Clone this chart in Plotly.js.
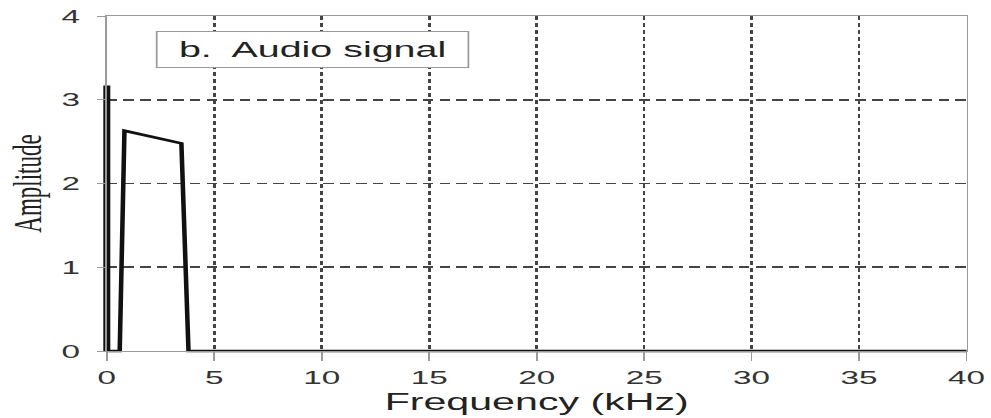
<!DOCTYPE html>
<html>
<head>
<meta charset="utf-8">
<script src="https://cdn.plot.ly/plotly-3.0.1.min.js"></script>
<style>
  html, body { margin: 0; padding: 0; background: #fff; overflow: hidden; }
  /* the spectrum panel is laid out narrow and widened to the page width */
  #chart { width: 566px; height: 418px; transform: scaleX(1.751); transform-origin: 0 0; }
  /* let the 0 kHz carrier line show its full width on the left edge */
  #chart .overplot, #chart .overplot g { clip-path: none !important; }
</style>
</head>
<body>
<div id="chart"></div>
<script>
// Carrier component at 0 kHz
const carrierFreq = [0, 0];
const carrierAmp = [0, 3.17];

// Audio band spectrum (kHz, amplitude)
const bandFreq = [0, 0.6, 0.82, 3.47, 3.8, 40];
const bandAmp = [0, 0, 2.63, 2.48, 0, 0];

const xTicks = [0, 5, 10, 15, 20, 25, 30, 35, 40];
const yTicks = [0, 1, 2, 3, 4];

const panelLabel = 'b.  Audio signal';

const tickFont = { family: 'Liberation Sans, Arial, sans-serif', size: 19, color: '#333' };

const traces = [
  {
    x: bandFreq, y: bandAmp, type: 'scatter', mode: 'lines',
    line: { color: '#111', width: 2.6 }, hoverinfo: 'skip', cliponaxis: false
  },
  {
    x: carrierFreq, y: carrierAmp, type: 'scatter', mode: 'lines',
    line: { color: '#111', width: 4 }, hoverinfo: 'skip', cliponaxis: false
  }
];

const layout = {
  width: 566, height: 418,
  margin: { l: 61.1, r: 13.7, t: 16, b: 67 },
  paper_bgcolor: '#fff', plot_bgcolor: '#fff',
  showlegend: false,
  xaxis: {
    range: [0, 40], tickvals: xTicks, ticktext: xTicks.map(String),
    showline: true, linecolor: '#9a9a9a', linewidth: 1, mirror: true,
    ticks: 'outside', ticklen: 9, tickcolor: '#9a9a9a', tickwidth: 1,
    showgrid: true, gridcolor: '#444', gridwidth: 1.5, griddash: '4px,3px',
    zeroline: false, tickfont: tickFont, automargin: false,
    title: { text: 'Frequency (kHz)', font: { family: 'Liberation Sans, Arial, sans-serif', size: 23.5, color: '#222' }, standoff: 6 }
  },
  yaxis: {
    range: [0, 4], tickvals: yTicks, ticktext: yTicks.map(String),
    showline: true, linecolor: '#9a9a9a', linewidth: 1, mirror: true,
    ticks: 'outside', ticklen: 4.5, tickcolor: '#9a9a9a', tickwidth: 1,
    ticklabelstandoff: 6,
    showgrid: true, gridcolor: '#444', gridwidth: 1.6, griddash: '6px,3.5px',
    zeroline: false, tickfont: tickFont, automargin: false,
    title: { text: 'Amplitude', font: { family: 'Liberation Serif, Times New Roman, serif', size: 23, color: '#222' }, standoff: 4 }
  },
  annotations: [{
    x: 9.58, y: 3.6, xref: 'x', yref: 'y',
    text: panelLabel, showarrow: false,
    font: { family: 'Liberation Sans, Arial, sans-serif', size: 22.5, color: '#222' },
    bgcolor: '#fff', bordercolor: '#9a9a9a', borderwidth: 1,
    width: 175, height: 33, align: 'center', valign: 'middle'
  }]
};

Plotly.newPlot('chart', traces, layout, { displayModeBar: false, staticPlot: true });
</script>
</body>
</html>
